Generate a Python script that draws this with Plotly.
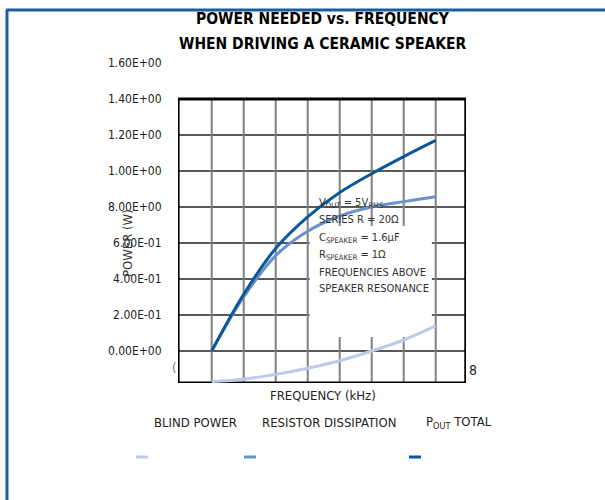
import plotly.graph_objects as go

# ---- data ----
freq_khz = [1, 2, 3, 4, 5, 6, 7, 8]
blind_power = [-0.170, -0.157, -0.130, -0.096, -0.054, 0.000, 0.061, 0.139]
resistor_dissipation = [0.000, 0.300, 0.530, 0.665, 0.750, 0.800, 0.830, 0.857]
pout_total = [0.000, 0.315, 0.570, 0.745, 0.880, 0.985, 1.080, 1.170]

series_names = ["BLIND POWER", "RESISTOR DISSIPATION", "P<sub>OUT</sub> TOTAL"]
series_values = [blind_power, resistor_dissipation, pout_total]
series_colors = ["#bccbe7", "#6b93c9", "#0c5799"]

y_tick_vals = [0.0, 0.2, 0.4, 0.6, 0.8, 1.0, 1.2, 1.4, 1.6]
y_tick_text = ["0.00E+00", "2.00E-01", "4.00E-01", "6.00E-01", "8.00E+00",
               "1.00E+00", "1.20E+00", "1.40E+00", "1.60E+00"]
h_grid = [0.0, 0.2, 0.4, 0.6, 0.8, 1.0, 1.2]
v_grid = [1, 2, 3, 4, 5, 6, 7, 8]

note_lines = ["V<sub>OUT</sub> = 5V<sub>RMS</sub>", "SERIES R = 20Ω",
              "C<sub>SPEAKER</sub> = 1.6µF", "R<sub>SPEAKER</sub> = 1Ω",
              "FREQUENCIES ABOVE", "SPEAKER RESONANCE"]

FONT = "Liberation Sans Narrow, DejaVu Sans Condensed, Noto Sans Condensed, Roboto Condensed, Roboto, sans-serif"
W, H = 605, 500
ML, MR, MT, MB = 178, 139, 60, 117
X_RANGE = [-0.053, 8.947]
Y_RANGE = [-0.178, 1.617]
BOX_X = [-0.05, 8.94]
BOX_Y = [-0.178, 1.40]


def pxx(p):
    return (p - ML) / (W - ML - MR)


def pxy(p):
    return (H - MB - p) / (H - MT - MB)


fig = go.Figure()
for name, vals, col in zip(series_names, series_values, series_colors):
    fig.add_trace(go.Scatter(x=freq_khz, y=vals, mode="lines", name=name,
                             line=dict(color=col, width=3, shape="spline", smoothing=1.0),
                             showlegend=False, cliponaxis=False))

shapes = []
for v in h_grid:
    shapes.append(dict(type="line", xref="x", yref="y", x0=BOX_X[0], x1=BOX_X[1], y0=v, y1=v,
                       line=dict(color="#222222", width=1.5), layer="below"))
for v in v_grid:
    shapes.append(dict(type="line", xref="x", yref="y", x0=v, x1=v, y0=BOX_Y[0], y1=BOX_Y[1],
                       line=dict(color="#808080", width=2), layer="below"))
# white note background covering grid
shapes.append(dict(type="rect", xref="x", yref="y", x0=4.06, x1=7.88, y0=0.078, y1=0.695,
                   fillcolor="white", line=dict(width=0), layer="below"))
# plot frame box
shapes.append(dict(type="rect", xref="x", yref="y", x0=BOX_X[0], x1=BOX_X[1], y0=BOX_Y[0], y1=BOX_Y[1],
                   line=dict(color="black", width=3), layer="below"))
# page frame (blue)
shapes.append(dict(type="line", xref="paper", yref="paper", x0=pxx(6), x1=pxx(605), y0=pxy(10), y1=pxy(10),
                   line=dict(color="#1a5c9e", width=3)))
shapes.append(dict(type="line", xref="paper", yref="paper", x0=pxx(7), x1=pxx(7), y0=pxy(10), y1=pxy(500),
                   line=dict(color="#1a5c9e", width=3)))

annotations = []
annotations.append(dict(text="<b>POWER NEEDED vs. FREQUENCY</b>", xref="paper", yref="paper",
                        x=pxx(323), y=pxy(19), showarrow=False, xanchor="center", yanchor="middle",
                        font=dict(family=FONT, size=15.5, color="black")))
annotations.append(dict(text="<b>WHEN DRIVING A CERAMIC SPEAKER</b>", xref="paper", yref="paper",
                        x=pxx(323), y=pxy(44), showarrow=False, xanchor="center", yanchor="middle",
                        font=dict(family=FONT, size=15.5, color="black")))
annotations.append(dict(text="FREQUENCY (kHz)", xref="paper", yref="paper", x=pxx(323), y=pxy(395),
                        showarrow=False, xanchor="center", yanchor="middle",
                        font=dict(family=FONT, size=13, color="#222")))
annotations.append(dict(text="POWER (W)", xref="paper", yref="paper", x=pxx(127), y=pxy(243),
                        showarrow=False, xanchor="center", yanchor="middle", textangle=-90,
                        font=dict(family=FONT, size=13, color="#333")))
note_y = [203, 220, 238, 255, 272, 288]
for txt, ny in zip(note_lines, note_y):
    annotations.append(dict(text=txt, xref="paper", yref="paper", x=pxx(317), y=pxy(ny),
                            showarrow=False, xanchor="left", yanchor="middle", align="left",
                            font=dict(family=FONT, size=11, color="#333")))
annotations.append(dict(text="8", xref="paper", yref="paper", x=pxx(467), y=pxy(370),
                        showarrow=False, xanchor="left", yanchor="middle",
                        font=dict(family=FONT, size=14, color="#222")))
annotations.append(dict(text="(", xref="paper", yref="paper", x=pxx(179), y=pxy(367),
                        showarrow=False, xanchor="right", yanchor="middle",
                        font=dict(family=FONT, size=13, color="#777")))
legend_text_x = [152, 260, 424]
legend_sym_x = [136, 244, 409]
for name, col, tx, sx in zip(series_names, series_colors, legend_text_x, legend_sym_x):
    annotations.append(dict(text=name, xref="paper", yref="paper", x=pxx(tx), y=pxy(422),
                            showarrow=False, xanchor="left", yanchor="middle",
                            font=dict(family=FONT, size=13, color="#222")))
    shapes.append(dict(type="line", xref="paper", yref="paper", x0=pxx(sx), x1=pxx(sx + 12),
                       y0=pxy(457), y1=pxy(457), line=dict(color=col, width=3)))

fig.update_layout(
    width=W, height=H,
    margin=dict(l=ML, r=MR, t=MT, b=MB, pad=0),
    paper_bgcolor="white", plot_bgcolor="rgba(0,0,0,0)",
    showlegend=False,
    xaxis=dict(range=X_RANGE, showgrid=False, zeroline=False, showline=False,
               showticklabels=False, ticks="", automargin=False),
    yaxis=dict(range=Y_RANGE, showgrid=False, zeroline=False, showline=False, automargin=False,
               tickvals=y_tick_vals, ticktext=y_tick_text, ticks="outside", ticklen=13,
               tickcolor="rgba(0,0,0,0)",
               tickfont=dict(family=FONT, size=12, color="#222")),
    shapes=shapes, annotations=annotations,
)

fig.write_html("out.html", config={"displayModeBar": False},
               post_script="document.body.style.margin='0';document.body.style.overflow='hidden';")
